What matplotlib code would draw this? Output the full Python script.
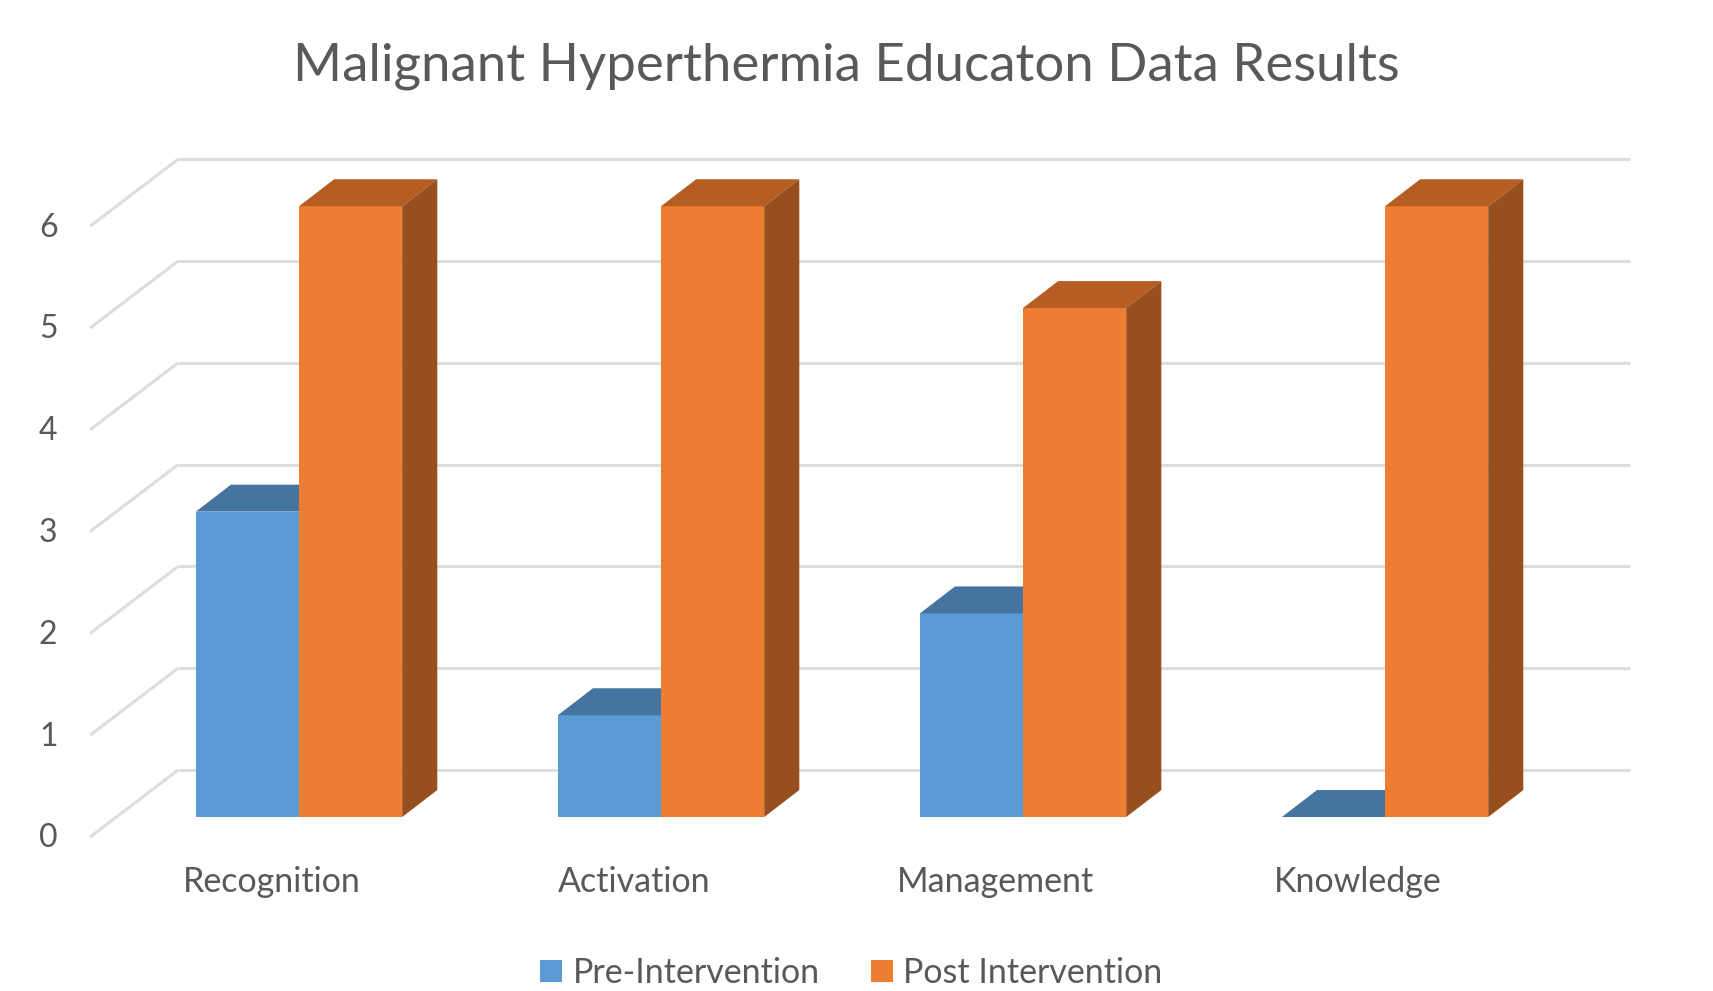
import matplotlib
matplotlib.use("Agg")
import matplotlib.pyplot as plt
from matplotlib.patches import Polygon, Patch

plt.rcParams["font.family"] = ["Lato", "DejaVu Sans"]

# ─── Dados ───────────────────────────────────────────────────────────────────
categories = ["Recognition", "Activation", "Management", "Knowledge"]
pre_values = [3, 1, 2, 0]
post_values = [6, 6, 5, 6]
y_ticks = [0, 1, 2, 3, 4, 5, 6]
series_names = ["Pre-Intervention", "Post Intervention"]

# ─── Estilo ──────────────────────────────────────────────────────────────────
TEXT = "#595959"
GRID = "#DDDDDD"
BLUE = ("#5B9BD5", "#44749F", "#3A6690")     # frente, topo, lateral
ORANGE = ("#ED7D31", "#B55D22", "#984F1E")

BAR_W = 0.285          # largura de cada barra (unidade = grupo)
DEPTH_X = 0.097        # profundidade oblíqua das barras
DEPTH_Y = 0.265
WALL_X0, WALL_X1 = -0.334, 3.677
WALL_DY = 0.462
DIAG_X, DIAG_DY = -0.577, -0.196

fig = plt.figure(figsize=(17.13, 9.91), dpi=100)
ax = fig.add_axes([0, 0, 1, 1])
ax.set_xlim(-0.826, 3.906)
ax.set_ylim(-1.709, 8.026)
ax.axis("off")

# parede do fundo + linhas diagonais da parede lateral
for v in y_ticks:
    ax.plot([WALL_X0, WALL_X1], [v + WALL_DY, v + WALL_DY],
            color=GRID, lw=2.2, zorder=1, solid_capstyle="butt")
    ax.plot([DIAG_X, WALL_X0], [v + DIAG_DY, v + WALL_DY],
            color=GRID, lw=2.2, zorder=1, solid_capstyle="butt")
    ax.text(-0.693, v - 0.21, str(v), ha="center", va="center",
            fontsize=23, color=TEXT)


def bar3d(x0, h, colors):
    front, top, side = colors
    x1 = x0 + BAR_W
    ax.bar(x0, h, width=BAR_W, align="edge", color=front, zorder=3,
           linewidth=0)
    ax.add_patch(Polygon([(x0, h), (x1, h), (x1 + DEPTH_X, h + DEPTH_Y),
                          (x0 + DEPTH_X, h + DEPTH_Y)],
                         closed=True, facecolor=top, lw=0, zorder=3))
    ax.add_patch(Polygon([(x1, 0), (x1 + DEPTH_X, DEPTH_Y),
                          (x1 + DEPTH_X, h + DEPTH_Y), (x1, h)],
                         closed=True, facecolor=side, lw=0, zorder=3))


for i, (cat, pre, post) in enumerate(zip(categories, pre_values, post_values)):
    bar3d(i - BAR_W, pre, BLUE)
    bar3d(i, post, ORANGE)
    ax.text(i - 0.075, -0.64, cat, ha="center", va="center",
            fontsize=24.5, color=TEXT)

fig.text(0.494, 1 - 66 / 991, "Malignant Hyperthermia Educaton Data Results",
         ha="center", va="center", fontsize=38, color=TEXT)

handles = [Patch(facecolor=BLUE[0]), Patch(facecolor=ORANGE[0])]
leg = fig.legend(handles, series_names, loc="center",
                 bbox_to_anchor=(0.497, 1 - 973 / 991), ncol=2, frameon=False,
                 fontsize=24.5, handlelength=0.65, handleheight=0.65,
                 handletextpad=0.3, columnspacing=1.5)
for t in leg.get_texts():
    t.set_color(TEXT)

fig.savefig("out.png", dpi=100)
